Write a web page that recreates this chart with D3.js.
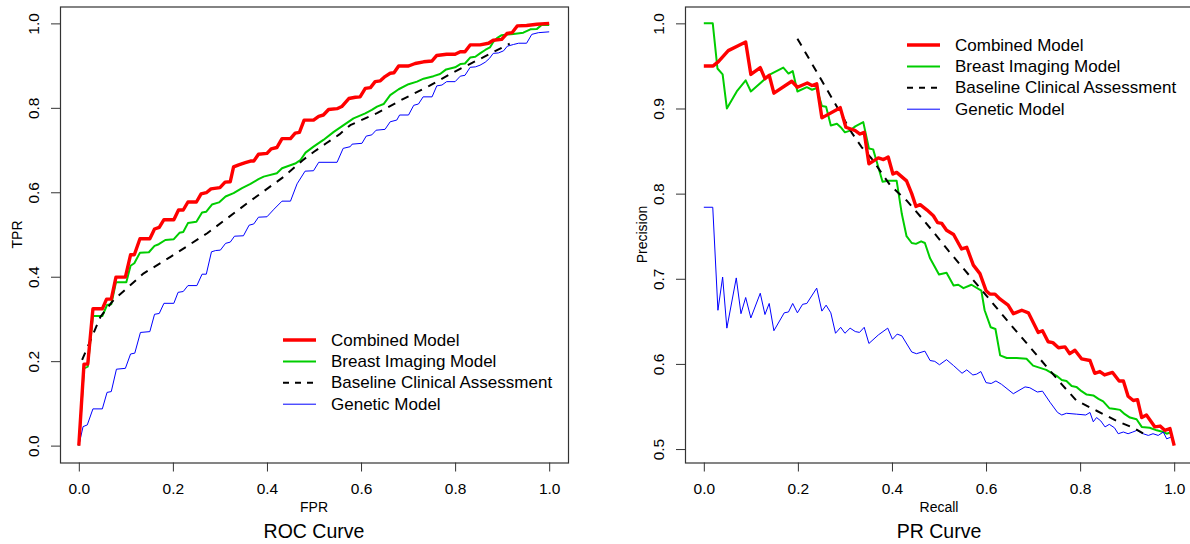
<!DOCTYPE html>
<html>
<head>
<meta charset="utf-8">
<script src="https://cdn.jsdelivr.net/npm/d3@7"></script>
<style>
  body { margin: 0; background: #fff; }
  svg { display: block; font-family: "Liberation Sans", Arial, Helvetica, sans-serif; }
</style>
</head>
<body>
<svg id="chart" width="1190" height="544"></svg>
<script>
// ROC curves: [FPR, TPR]
var rocCombined = [[0,0],[0.011,0.193],[0.019,0.193],[0.03,0.324],[0.05,0.324],[0.059,0.347],[0.069,0.347],[0.079,0.399],[0.099,0.399],[0.11,0.452],[0.118,0.452],[0.13,0.49],[0.151,0.49],[0.161,0.513],[0.171,0.517],[0.181,0.535],[0.202,0.535],[0.212,0.558],[0.222,0.558],[0.232,0.577],[0.25,0.577],[0.26,0.596],[0.271,0.599],[0.281,0.608],[0.3,0.611],[0.311,0.624],[0.322,0.625],[0.329,0.66],[0.34,0.665],[0.354,0.67],[0.365,0.674],[0.372,0.674],[0.382,0.69],[0.4,0.692],[0.409,0.703],[0.421,0.706],[0.432,0.727],[0.45,0.727],[0.46,0.74],[0.469,0.742],[0.479,0.771],[0.499,0.771],[0.51,0.78],[0.52,0.783],[0.531,0.796],[0.549,0.798],[0.559,0.803],[0.574,0.822],[0.588,0.825],[0.598,0.826],[0.609,0.846],[0.62,0.848],[0.63,0.862],[0.641,0.864],[0.651,0.874],[0.662,0.882],[0.67,0.883],[0.68,0.899],[0.701,0.899],[0.715,0.905],[0.733,0.909],[0.751,0.911],[0.761,0.924],[0.782,0.927],[0.8,0.927],[0.811,0.933],[0.821,0.933],[0.832,0.949],[0.853,0.949],[0.871,0.953],[0.881,0.96],[0.899,0.962],[0.91,0.976],[0.921,0.978],[0.932,0.994],[0.952,0.995],[0.974,0.998],[1,1]];
var rocImaging = [[0,0],[0.011,0.183],[0.019,0.187],[0.03,0.307],[0.05,0.307],[0.06,0.333],[0.069,0.335],[0.079,0.387],[0.101,0.387],[0.11,0.426],[0.118,0.432],[0.13,0.457],[0.149,0.458],[0.161,0.473],[0.17,0.477],[0.184,0.487],[0.202,0.489],[0.214,0.504],[0.222,0.506],[0.232,0.527],[0.25,0.53],[0.262,0.552],[0.271,0.554],[0.283,0.571],[0.298,0.576],[0.312,0.59],[0.329,0.598],[0.347,0.61],[0.365,0.62],[0.382,0.631],[0.393,0.637],[0.421,0.645],[0.432,0.657],[0.46,0.668],[0.471,0.676],[0.482,0.694],[0.499,0.708],[0.52,0.724],[0.542,0.743],[0.563,0.759],[0.584,0.775],[0.609,0.787],[0.623,0.795],[0.634,0.803],[0.648,0.809],[0.662,0.83],[0.68,0.844],[0.701,0.856],[0.719,0.862],[0.733,0.869],[0.754,0.875],[0.768,0.88],[0.781,0.891],[0.8,0.896],[0.812,0.904],[0.821,0.905],[0.832,0.919],[0.843,0.921],[0.853,0.929],[0.864,0.937],[0.874,0.943],[0.881,0.956],[0.889,0.965],[0.899,0.972],[0.924,0.975],[0.945,0.978],[0.96,0.986],[0.974,0.987],[0.984,0.996],[1,0.996]];
var rocBaseline = [[0.007,0.203],[0.046,0.305],[0.074,0.345],[0.138,0.408],[0.195,0.447],[0.273,0.503],[0.358,0.574],[0.436,0.637],[0.476,0.676],[0.5,0.696],[0.526,0.716],[0.554,0.737],[0.577,0.759],[0.635,0.788],[0.688,0.82],[0.745,0.852],[0.798,0.885],[0.855,0.917],[0.916,0.952]];
var rocGenetic = [[0,0],[0.009,0.045],[0.018,0.049],[0.03,0.087],[0.05,0.087],[0.06,0.126],[0.069,0.128],[0.08,0.181],[0.099,0.183],[0.11,0.217],[0.119,0.219],[0.131,0.268],[0.151,0.27],[0.161,0.311],[0.171,0.313],[0.181,0.337],[0.202,0.337],[0.211,0.363],[0.222,0.365],[0.232,0.379],[0.251,0.379],[0.262,0.406],[0.271,0.406],[0.282,0.459],[0.291,0.462],[0.301,0.463],[0.312,0.479],[0.322,0.482],[0.331,0.496],[0.35,0.497],[0.362,0.522],[0.372,0.525],[0.382,0.541],[0.4,0.542],[0.415,0.56],[0.432,0.579],[0.45,0.579],[0.464,0.62],[0.481,0.65],[0.499,0.651],[0.51,0.671],[0.549,0.671],[0.562,0.704],[0.577,0.708],[0.581,0.714],[0.602,0.716],[0.611,0.733],[0.623,0.736],[0.632,0.747],[0.651,0.749],[0.662,0.767],[0.676,0.771],[0.682,0.783],[0.701,0.783],[0.712,0.806],[0.722,0.809],[0.732,0.826],[0.751,0.826],[0.761,0.852],[0.772,0.854],[0.782,0.862],[0.8,0.862],[0.811,0.875],[0.821,0.877],[0.832,0.896],[0.843,0.897],[0.853,0.901],[0.864,0.908],[0.873,0.917],[0.881,0.929],[0.892,0.93],[0.903,0.935],[0.911,0.946],[0.924,0.95],[0.935,0.953],[0.952,0.953],[0.963,0.974],[0.977,0.978],[1,0.98]];

// PR curves: [Recall, Precision]
var prCombined = [[0,0.95],[0.02,0.95],[0.031,0.955],[0.052,0.968],[0.074,0.974],[0.089,0.978],[0.1,0.94],[0.12,0.948],[0.13,0.935],[0.139,0.939],[0.149,0.918],[0.187,0.932],[0.199,0.925],[0.22,0.93],[0.23,0.927],[0.24,0.929],[0.251,0.889],[0.29,0.901],[0.302,0.878],[0.322,0.874],[0.332,0.87],[0.341,0.872],[0.351,0.835],[0.371,0.842],[0.382,0.84],[0.392,0.843],[0.402,0.823],[0.41,0.825],[0.431,0.815],[0.442,0.8],[0.451,0.785],[0.46,0.787],[0.474,0.781],[0.488,0.774],[0.497,0.766],[0.506,0.765],[0.516,0.757],[0.531,0.752],[0.548,0.735],[0.559,0.737],[0.573,0.716],[0.587,0.706],[0.6,0.686],[0.608,0.682],[0.619,0.682],[0.63,0.676],[0.647,0.669],[0.658,0.659],[0.676,0.663],[0.69,0.66],[0.711,0.637],[0.72,0.639],[0.732,0.626],[0.742,0.625],[0.754,0.619],[0.768,0.62],[0.778,0.612],[0.789,0.616],[0.803,0.606],[0.821,0.604],[0.831,0.589],[0.842,0.591],[0.852,0.587],[0.869,0.59],[0.883,0.58],[0.892,0.58],[0.902,0.562],[0.913,0.557],[0.922,0.558],[0.931,0.537],[0.941,0.54],[0.959,0.526],[0.97,0.527],[0.98,0.522],[0.991,0.524],[1,0.504]];
var prImaging = [[0,1],[0.019,1],[0.029,0.947],[0.04,0.94],[0.049,0.9],[0.07,0.92],[0.089,0.933],[0.1,0.92],[0.141,0.94],[0.169,0.948],[0.18,0.941],[0.189,0.944],[0.199,0.92],[0.219,0.925],[0.23,0.922],[0.24,0.924],[0.251,0.903],[0.26,0.902],[0.27,0.88],[0.283,0.882],[0.291,0.878],[0.3,0.872],[0.311,0.874],[0.322,0.879],[0.339,0.884],[0.351,0.853],[0.36,0.852],[0.38,0.814],[0.392,0.815],[0.41,0.815],[0.421,0.776],[0.431,0.75],[0.442,0.742],[0.451,0.741],[0.462,0.744],[0.47,0.742],[0.481,0.724],[0.5,0.705],[0.516,0.707],[0.531,0.692],[0.541,0.693],[0.552,0.689],[0.569,0.693],[0.59,0.686],[0.597,0.663],[0.61,0.643],[0.62,0.641],[0.63,0.61],[0.644,0.607],[0.665,0.607],[0.686,0.606],[0.7,0.598],[0.728,0.593],[0.75,0.586],[0.761,0.581],[0.771,0.58],[0.782,0.574],[0.792,0.573],[0.803,0.568],[0.814,0.564],[0.828,0.563],[0.839,0.559],[0.849,0.556],[0.862,0.548],[0.874,0.547],[0.885,0.546],[0.895,0.541],[0.906,0.537],[0.92,0.535],[0.931,0.526],[0.948,0.525],[0.963,0.522],[0.977,0.52],[0.984,0.518],[0.995,0.52]];
var prBaseline = [[0.199,0.982],[0.283,0.902],[0.314,0.872],[0.335,0.855],[0.357,0.841],[0.396,0.81],[0.431,0.792],[0.467,0.769],[0.491,0.753],[0.52,0.733],[0.552,0.712],[0.598,0.682],[0.651,0.647],[0.693,0.62],[0.736,0.592],[0.761,0.576],[0.792,0.557],[0.835,0.545],[0.878,0.533],[0.913,0.525],[0.941,0.516]];
var prGenetic = [[0,0.784],[0.019,0.784],[0.03,0.663],[0.04,0.702],[0.049,0.642],[0.069,0.701],[0.079,0.659],[0.089,0.678],[0.1,0.654],[0.12,0.683],[0.13,0.658],[0.139,0.671],[0.149,0.639],[0.171,0.66],[0.18,0.661],[0.189,0.671],[0.199,0.66],[0.21,0.67],[0.219,0.671],[0.24,0.689],[0.251,0.662],[0.26,0.669],[0.27,0.66],[0.28,0.636],[0.291,0.643],[0.3,0.636],[0.311,0.642],[0.322,0.638],[0.331,0.637],[0.341,0.643],[0.351,0.624],[0.371,0.634],[0.391,0.642],[0.401,0.629],[0.411,0.635],[0.421,0.633],[0.442,0.614],[0.452,0.612],[0.47,0.615],[0.481,0.604],[0.491,0.603],[0.501,0.599],[0.516,0.605],[0.531,0.598],[0.549,0.589],[0.559,0.593],[0.572,0.587],[0.58,0.588],[0.589,0.591],[0.6,0.578],[0.611,0.577],[0.621,0.58],[0.633,0.576],[0.658,0.565],[0.683,0.573],[0.693,0.572],[0.709,0.567],[0.72,0.568],[0.736,0.555],[0.752,0.543],[0.761,0.54],[0.771,0.542],[0.792,0.541],[0.812,0.54],[0.821,0.543],[0.828,0.532],[0.835,0.537],[0.844,0.533],[0.853,0.526],[0.862,0.529],[0.873,0.525],[0.881,0.518],[0.892,0.52],[0.902,0.518],[0.912,0.52],[0.921,0.522],[0.934,0.518],[0.945,0.516],[0.955,0.518],[0.966,0.516],[0.977,0.52],[0.984,0.512],[0.993,0.514],[0.998,0.51]];

var seriesNames = ["Combined Model", "Breast Imaging Model", "Baseline Clinical Assessment", "Genetic Model"];
var tickValues = [0, 0.2, 0.4, 0.6, 0.8, 1.0];
var prTickValues = [0.5, 0.6, 0.7, 0.8, 0.9, 1.0];

var styles = [
  { color: "#ff0000", width: 3.4, dash: null },
  { color: "#00cd00", width: 2, dash: null },
  { color: "#000000", width: 2, dash: "8,7" },
  { color: "#0000ff", width: 1, dash: null }
];

var svg = d3.select("#chart");

function drawPanel(opt) {
  var x = d3.scaleLinear().domain(opt.xDomain).range([opt.left, opt.right]);
  var y = d3.scaleLinear().domain(opt.yDomain).range([opt.bottom, opt.top]);
  var g = svg.append("g");

  // x ticks
  var xAxis = d3.axisBottom(x).tickValues(opt.xTicks).tickFormat(d3.format(".1f")).tickSize(9).tickPadding(11);
  var gx = g.append("g").attr("transform", "translate(0," + opt.bottom + ")").call(xAxis);
  gx.select(".domain").remove();
  gx.selectAll("text").attr("font-size", 15.5).attr("font-family", null).attr("fill", "#000");
  gx.selectAll("line").attr("stroke", "#333");

  // y ticks, labels rotated like base R
  var yAxis = d3.axisLeft(y).tickValues(opt.yTicks).tickFormat(d3.format(".1f")).tickSize(9);
  var gy = g.append("g").attr("transform", "translate(" + opt.left + ",0)").call(yAxis);
  gy.select(".domain").remove();
  gy.selectAll("line").attr("stroke", "#333");
  gy.selectAll("text")
    .attr("x", null).attr("dy", null)
    .attr("font-size", 15.5).attr("font-family", null).attr("fill", "#000")
    .attr("text-anchor", "middle")
    .attr("dominant-baseline", "central")
    .attr("transform", "translate(-27,0) rotate(-90)");

  // plot box
  g.append("rect")
    .attr("x", opt.left + 0.5).attr("y", opt.top + 0.5)
    .attr("width", opt.right - opt.left).attr("height", opt.bottom - opt.top)
    .attr("fill", "none").attr("stroke", "#333").attr("stroke-width", 1.2);

  var line = d3.line().x(function (d) { return x(d[0]); }).y(function (d) { return y(d[1]); });
  var clipId = "clip" + opt.id;
  g.append("clipPath").attr("id", clipId).append("rect")
    .attr("x", opt.left).attr("y", opt.top)
    .attr("width", opt.right - opt.left).attr("height", opt.bottom - opt.top);

  // draw order: imaging, genetic, baseline, combined
  [1, 3, 2, 0].forEach(function (i) {
    g.append("path")
      .datum(opt.series[i])
      .attr("clip-path", "url(#" + clipId + ")")
      .attr("d", line)
      .attr("fill", "none")
      .attr("stroke", styles[i].color)
      .attr("stroke-width", styles[i].width)
      .attr("stroke-dasharray", styles[i].dash)
      .attr("stroke-linejoin", "round");
  });

  // legend
  var lg = g.append("g").attr("transform", "translate(" + opt.legendX + "," + opt.legendY + ")");
  seriesNames.forEach(function (name, i) {
    var row = lg.append("g").attr("transform", "translate(0," + (i * 21.4) + ")");
    row.append("line")
      .attr("x1", 0).attr("x2", 33).attr("y1", 0).attr("y2", 0)
      .attr("stroke", styles[i].color)
      .attr("stroke-width", styles[i].width)
      .attr("stroke-dasharray", styles[i].dash ? "6,6" : null);
    row.append("text")
      .attr("x", 48).attr("y", 0)
      .attr("dominant-baseline", "central")
      .attr("font-size", 17)
      .text(name);
  });

  var cx = (opt.left + opt.right) / 2;
  var cy = (opt.top + opt.bottom) / 2;
  g.append("text").attr("x", cx).attr("y", 512).attr("text-anchor", "middle")
    .attr("font-size", 14).text(opt.xLabel);
  g.append("text").attr("text-anchor", "middle")
    .attr("transform", "translate(" + opt.yLabelX + "," + cy + ") rotate(-90)")
    .attr("font-size", 14).text(opt.yLabel);
  g.append("text").attr("x", cx).attr("y", 538).attr("text-anchor", "middle")
    .attr("font-size", 19.5).text(opt.title);
}

drawPanel({
  id: "roc", left: 60, right: 568, top: 6.5, bottom: 462.5,
  xDomain: [-0.04, 1.04], yDomain: [-0.04, 1.04],
  xTicks: tickValues, yTicks: tickValues,
  series: [rocCombined, rocImaging, rocBaseline, rocGenetic],
  legendX: 283, legendY: 340,
  xLabel: "FPR", yLabel: "TPR", yLabelX: 21.5, title: "ROC Curve"
});

drawPanel({
  id: "pr", left: 685, right: 1193, top: 6.5, bottom: 462.5,
  xDomain: [-0.04, 1.04], yDomain: [0.4842, 1.0198],
  xTicks: tickValues, yTicks: prTickValues,
  series: [prCombined, prImaging, prBaseline, prGenetic],
  legendX: 907, legendY: 45,
  xLabel: "Recall", yLabel: "Precision", yLabelX: 646.5, title: "PR Curve"
});
</script>
</body>
</html>
